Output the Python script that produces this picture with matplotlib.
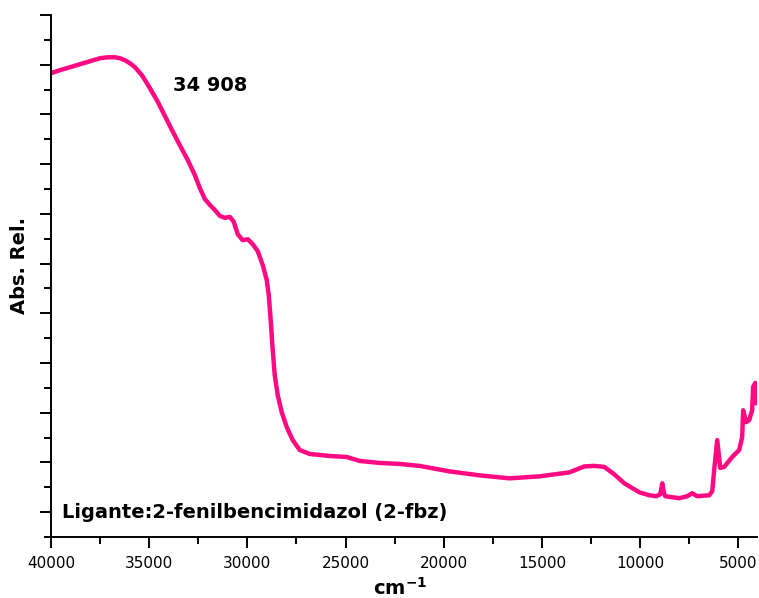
import matplotlib
matplotlib.use("Agg")
import matplotlib.pyplot as plt
from matplotlib.ticker import MultipleLocator, NullFormatter

# Wavenumber (cm^-1) and relative absorbance
wavenumber = [40000, 39542, 39034, 38525, 38017, 37508, 37101, 36745, 36491,
              36236, 35982, 35728, 35372, 34965, 34558, 34202, 33846, 33439,
              33032, 32676, 32422, 32168, 31913, 31659, 31405, 31150, 30896,
              30693, 30490, 30236, 29981, 29727, 29473, 29218, 29015, 28913,
              28812, 28710, 28608, 28455, 28251, 27997, 27692, 27336, 26827,
              25810, 24945, 24284, 23267, 22250, 21233, 19707, 18181, 16655,
              15130, 13604, 12841, 12333, 11824, 11315, 10807, 10044, 9535,
              9179, 8976, 8874, 8772, 8721, 8009, 7603, 7348, 7094, 6483,
              6330, 6229, 6076, 5923, 5720, 5313, 4958, 4805, 4755, 4602,
              4449, 4297, 4246, 4142, 4093]
absorbance = [8.83, 8.89, 8.95, 9.01, 9.07, 9.13, 9.15, 9.15, 9.13,
              9.09, 9.03, 8.95, 8.79, 8.53, 8.25, 7.97, 7.69, 7.38,
              7.08, 6.78, 6.52, 6.30, 6.18, 6.08, 5.96, 5.92, 5.94,
              5.84, 5.59, 5.47, 5.49, 5.39, 5.25, 4.97, 4.67, 4.37,
              3.86, 3.26, 2.76, 2.35, 2.01, 1.71, 1.45, 1.25, 1.17,
              1.13, 1.11, 1.03, 0.99, 0.97, 0.93, 0.82, 0.74, 0.68,
              0.72, 0.80, 0.92, 0.93, 0.91, 0.76, 0.58, 0.40, 0.34,
              0.32, 0.36, 0.58, 0.36, 0.32, 0.28, 0.32, 0.38, 0.32, 0.34,
              0.42, 0.85, 1.45, 0.89, 0.91, 1.11, 1.25,
              1.51, 2.05, 1.81, 1.85, 2.05, 2.52, 2.60, 2.19]

annotation = "34 908"
sample_label = "Ligante:2-fenilbencimidazol (2-fbz)"

fig = plt.figure(figsize=(7.59, 5.98), dpi=100)
ax = fig.add_axes([51/759, 61/598, 706/759, 522/598])

ax.plot(wavenumber, absorbance, color="#FF0A82", lw=3.2,
        solid_joinstyle="round", solid_capstyle="round")

ax.set_xlim(40000, 4050)
ax.set_ylim(-0.5, 10)

ax.xaxis.set_major_locator(MultipleLocator(5000))
ax.xaxis.set_minor_locator(MultipleLocator(2500))
ax.yaxis.set_major_locator(MultipleLocator(1))
ax.yaxis.set_minor_locator(MultipleLocator(0.5))
ax.yaxis.set_major_formatter(NullFormatter())

for s in ["top", "right"]:
    ax.spines[s].set_visible(False)
for s in ["left", "bottom"]:
    ax.spines[s].set_linewidth(1.4)
    ax.spines[s].set_color("black")

ax.tick_params(which="major", direction="out", length=8, width=1.4,
               labelsize=11, pad=6)
ax.tick_params(which="minor", direction="out", length=5, width=1.4)

ax.set_xlabel("cm$^{\\mathbf{-1}}$", fontsize=14, fontweight="bold",
              va="center")
ax.xaxis.set_label_coords(0.495, -0.098)
ax.set_ylabel("Abs. Rel.", fontsize=14, fontweight="bold", va="center")
ax.yaxis.set_label_coords(-0.044, 0.52)

ax.text(31913, 8.59, annotation, fontsize=14, fontweight="bold",
        ha="center", va="center")
ax.text(0.016, 0.046, sample_label, transform=ax.transAxes, fontsize=14,
        fontweight="bold", ha="left", va="center")

fig.savefig("out.png", dpi=100)
